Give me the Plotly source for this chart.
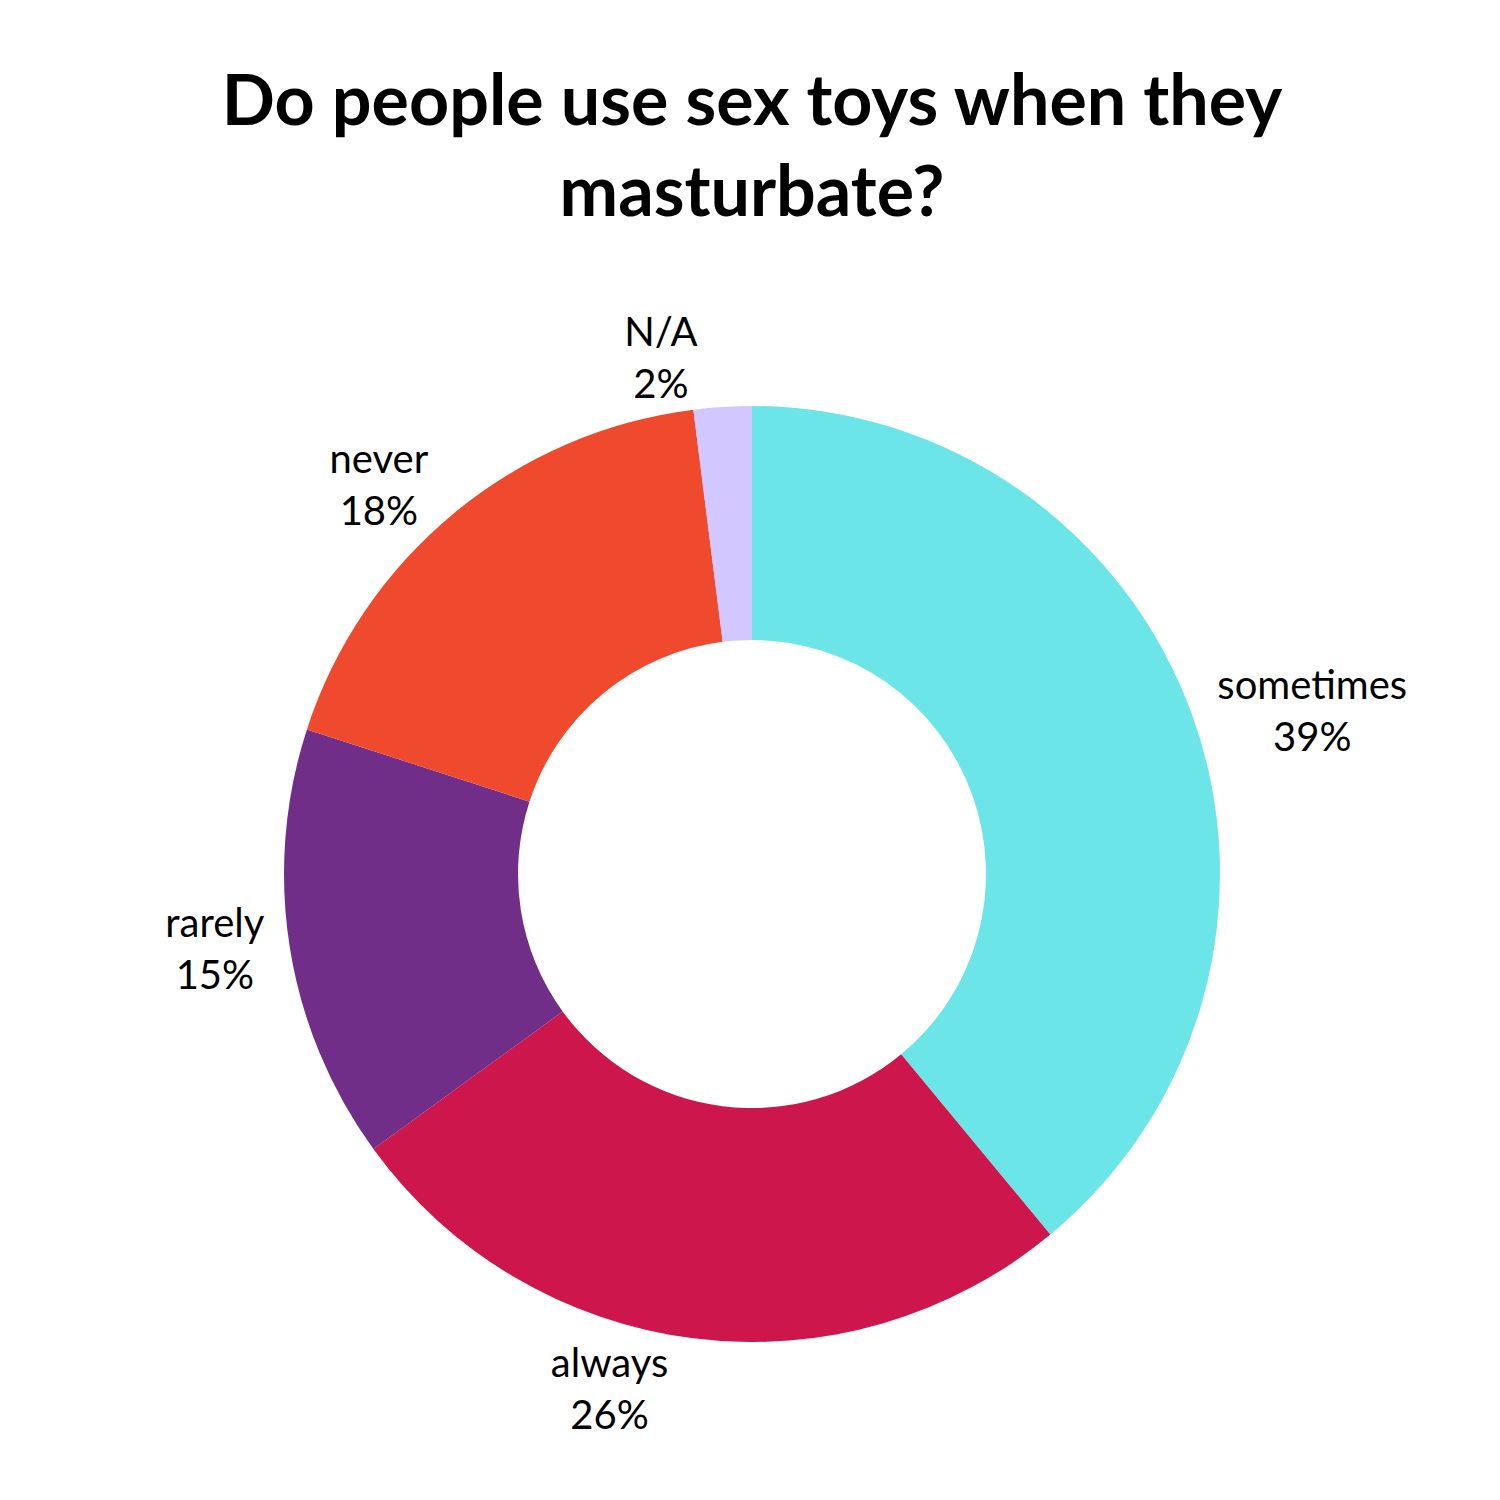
import plotly.graph_objects as go

labels = ["sometimes", "always", "rarely", "never", "N/A"]
values = [39, 26, 15, 18, 2]
colors = ["#6CE5E8", "#CC164C", "#702E88", "#F04A2E", "#D2C8FF"]

fig = go.Figure(go.Pie(
    labels=labels,
    values=values,
    hole=0.5,
    sort=False,
    direction="clockwise",
    rotation=0,
    marker=dict(colors=colors, line=dict(width=0)),
    textinfo="label+percent",
    texttemplate="%{label}<br>%{percent:.0%}",
    textposition="outside",
    textfont=dict(family="Lato", size=40, color="black"),
    showlegend=False,
))

fig.update_layout(
    width=1500, height=1500,
    paper_bgcolor="white", plot_bgcolor="white",
    margin=dict(t=398, b=166, l=276, r=288, autoexpand=False),
    title=dict(
        text="<b>Do people use sex toys when they<br>masturbate?</b>",
        x=0.5, xanchor="center", xref="paper",
        y=1 - 117 / 1500, yanchor="top", yref="container",
        font=dict(family="Lato", size=70, color="black"),
    ),
)

fig.write_html("out.html")
